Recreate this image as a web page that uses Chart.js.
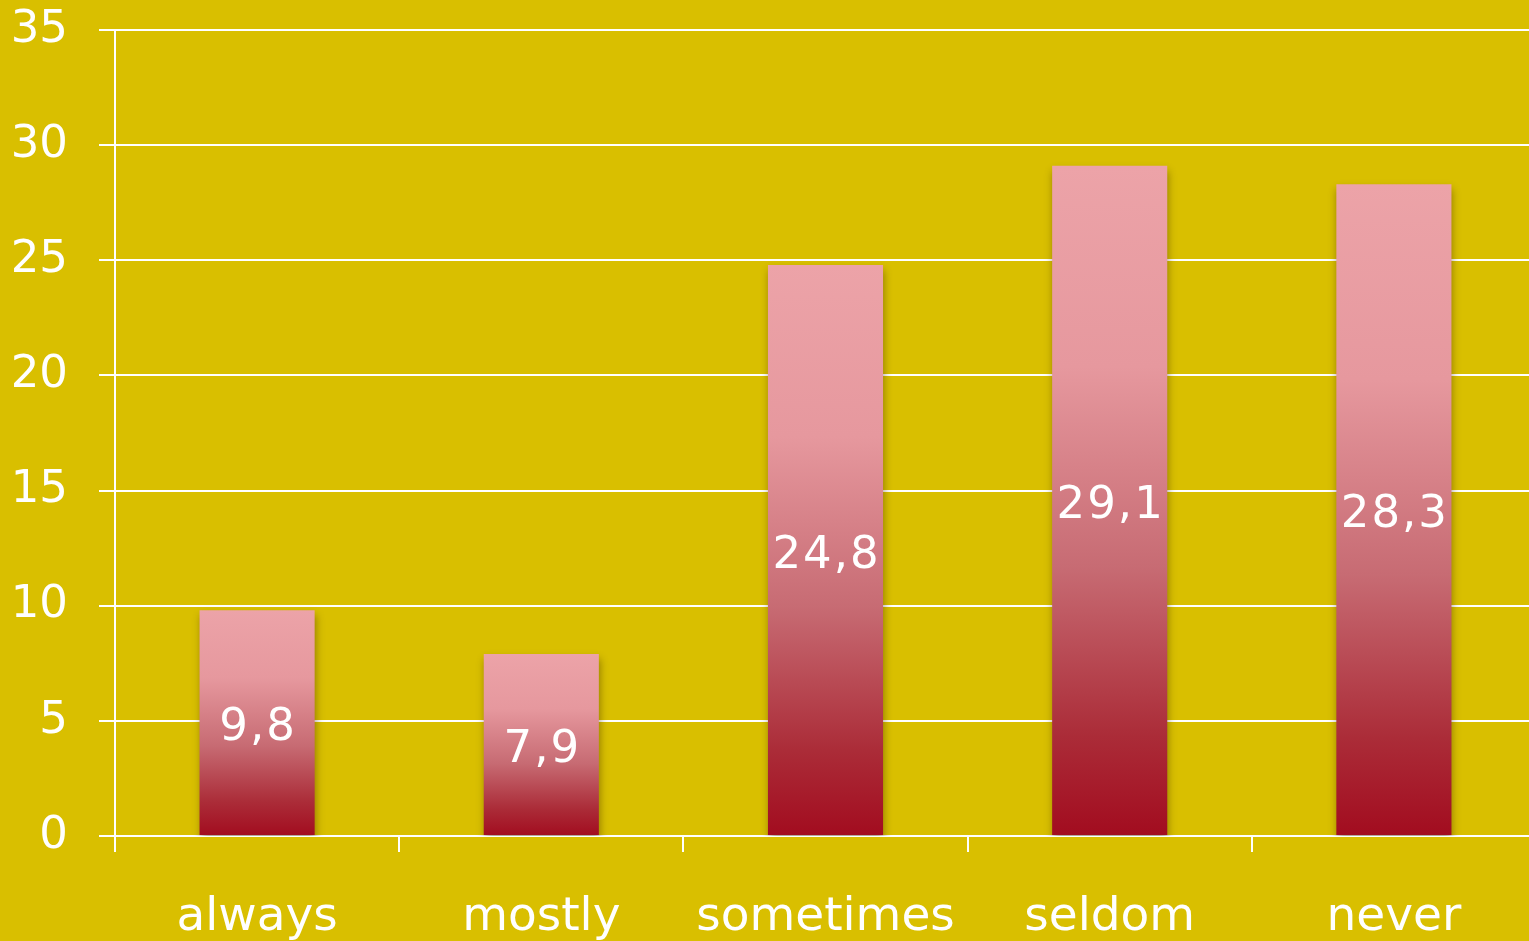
<!DOCTYPE html>
<html>
<head>
<meta charset="utf-8">
<script src="https://cdn.jsdelivr.net/npm/chart.js@4/dist/chart.umd.min.js"></script>
<style>
  html,body{margin:0;padding:0;background:#d9bf00;overflow:hidden;}
  #wrap{width:1536px;height:941px;}
</style>
</head>
<body>
<div id="wrap"><canvas id="chart" width="1536" height="941"></canvas></div>
<script>
// data
const categories = ["always", "mostly", "sometimes", "seldom", "never"];
const values = [9.8, 7.9, 24.8, 29.1, 28.3];
const yTicks = [0, 5, 10, 15, 20, 25, 30, 35];

const FONT = "'DejaVu Sans', sans-serif";

// gradient per bar, from its top to the zero line
function barColor(c){
  const chart = c.chart;
  const y = chart.scales.y;
  if(!y || !chart.chartArea) return "#d0868d";
  const top = y.getPixelForValue(values[c.dataIndex]);
  const bottom = y.getPixelForValue(0);
  const g = chart.ctx.createLinearGradient(0, top, 0, bottom);
  g.addColorStop(0, "#eca3a8");
  g.addColorStop(0.3, "#e6989e");
  g.addColorStop(0.6, "#c76b73");
  g.addColorStop(0.85, "#ab2c38");
  g.addColorStop(1, "#a20c1f");
  return g;
}

// soft shadow under bars
const shadowPlugin = {
  id: "barShadow",
  beforeDatasetsDraw(chart){
    const ctx = chart.ctx;
    ctx.save();
    ctx.shadowColor = "rgba(60,40,0,0.45)";
    ctx.shadowBlur = 8;
    ctx.shadowOffsetX = 1;
    ctx.shadowOffsetY = 5;
  },
  afterDatasetsDraw(chart){
    chart.ctx.restore();
  }
};

// value labels in the middle of each bar
const labelPlugin = {
  id: "valueLabels",
  afterDraw(chart){
    const ctx = chart.ctx;
    const meta = chart.getDatasetMeta(0);
    ctx.save();
    ctx.fillStyle = "#ffffff";
    ctx.font = "45px " + FONT;
    ctx.textAlign = "center";
    ctx.textBaseline = "middle";
    if("letterSpacing" in ctx) ctx.letterSpacing = "2px";
    meta.data.forEach(function(bar, i){
      const mid = (bar.y + bar.base) / 2;
      ctx.fillText(values[i].toFixed(1).replace(".", ","), bar.x + 1, mid + 6);
    });
    ctx.restore();
  }
};

new Chart(document.getElementById("chart"), {
  type: "bar",
  data: {
    labels: categories,
    datasets: [{
      data: values,
      backgroundColor: barColor,
      borderWidth: 0,
      barPercentage: 0.405,
      categoryPercentage: 1
    }]
  },
  options: {
    responsive: false,
    animation: false,
    layout: { padding: { top: 30, right: 0, left: 0, bottom: 0 } },
    plugins: { legend: { display: false }, tooltip: { enabled: false } },
    scales: {
      y: {
        min: 0, max: 35,
        afterBuildTicks(s){ s.ticks = yTicks.map(v => ({ value: v })); },
        afterFit(s){ s.width = 115; s.paddingTop = 0; s.paddingBottom = 0; },
        grid: { color: "#ffffff", lineWidth: 2, tickLength: 16, drawTicks: true },
        border: { color: "#ffffff", width: 2 },
        ticks: { color: "#ffffff", font: { family: FONT, size: 45 }, padding: 31 }
      },
      x: {
        afterFit(s){ s.height = 105; s.paddingLeft = 0; s.paddingRight = 0; },
        grid: { offset: true, drawOnChartArea: false, color: "#ffffff", lineWidth: 2, tickLength: 16 },
        border: { color: "#ffffff", width: 2 },
        ticks: { color: "#ffffff", font: { family: FONT, size: 47 }, padding: 38 }
      }
    }
  },
  plugins: [shadowPlugin, labelPlugin]
});
</script>
</body>
</html>
